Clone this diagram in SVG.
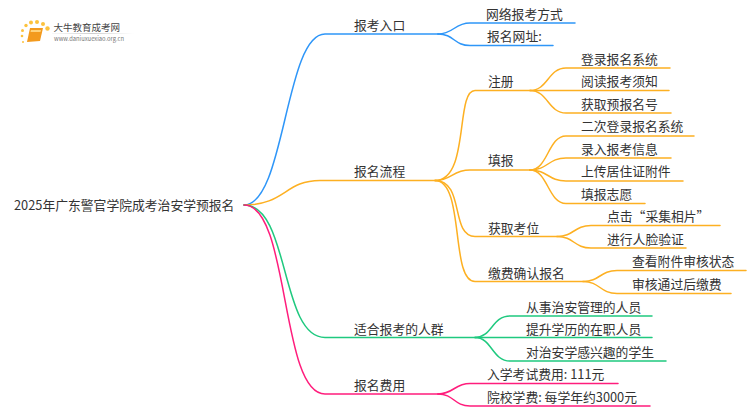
<svg xmlns="http://www.w3.org/2000/svg" width="750" height="410" viewBox="0 0 750 410">
<defs><linearGradient id="lg" x1="0" x2="1"><stop offset="0" stop-color="#ddd" stop-opacity="0.2"/><stop offset="0.5" stop-color="#ccc"/><stop offset="1" stop-color="#ddd" stop-opacity="0"/></linearGradient></defs>
<style>
text{font-family:"Noto Sans CJK SC","Noto Sans",sans-serif;font-size:12.8px;fill:#333}
path{fill:none;stroke-width:1.5;stroke-linecap:round}
.b path{stroke:#2e96f8}.o path{stroke:#fdb022}.g path{stroke:#1fc97f}.p path{stroke:#ff1d7c}
.lt{font-size:9.5px;fill:#444}.lu{font-size:5.8px;fill:#777}
</style>
<rect width="750" height="410" fill="#fff"/>
<g id="logo">
<g fill="#fcc23d"><circle cx="23" cy="42" r="1"/><circle cx="22" cy="36" r="1.3"/><circle cx="22.500" cy="30.500" r="1.5"/><circle cx="26" cy="25.500" r="1.7"/><circle cx="31" cy="22.500" r="2"/><circle cx="37" cy="22" r="2"/><circle cx="43" cy="24" r="2"/><circle cx="47.500" cy="28.500" r="2.2"/></g>
<polygon points="30,28 43,28 40,41 27,42" fill="#f39a1e"/>
<polygon points="31,30 41,30 40.500,32 30.500,32" fill="#ffd27a"/>
<text class="lt" x="53.500" y="31">大牛教育成考网</text>
<rect x="52" y="33" width="82" height="1" fill="url(#lg)"/>
<text class="lu" x="54" y="41">www.daniuxuexiao.org.cn</text>
</g>
<g id="connectors">
<g class="b"><path d="M244 205C285 205 285 34 325 34H438"/><path d="M438 34C454 34 454 23 470 23H575"/><path d="M438 34C454 34 454 45.500 470 45.500H553"/></g>
<g class="o"><path d="M244 205C285 205 285 180.500 320 180.500H435"/>
<path d="M435 180.500C470 180.500 455 90.500 475 90.500H530"/><path d="M435 180.500C452 180.500 452 170 470 170H530"/><path d="M435 180.500C465 180.500 450 236.500 475 236.500H557"/><path d="M435 180.500C465 180.500 450 281.500 475 281.500H583"/>
<path d="M530 90.500C548 90.500 548 68 566 68H670"/><path d="M530 90.500H669"/><path d="M530 90.500C548 90.500 548 113 566 113H671"/>
<path d="M530 170C548 170 548 136 566 136H694"/><path d="M530 170C548 170 548 158 566 158H671"/><path d="M530 170C548 170 548 181 566 181H683"/><path d="M530 170C548 170 548 203.500 566 203.500H645"/>
<path d="M557 236.500C574 236.500 574 225.500 591 225.500H720"/><path d="M557 236.500C574 236.500 574 248 591 248H686"/>
<path d="M583 281.500C600 281.500 600 270.500 617 270.500H746"/><path d="M583 281.500C600 281.500 600 293.500 617 293.500H731"/></g>
<g class="g"><path d="M244 205C290 205 280 337.500 325 337.500H475"/><path d="M475 337.500C492 337.500 492 316 510 316H652"/><path d="M475 337.500H652"/><path d="M475 337.500C492 337.500 492 361 510 361H666"/></g>
<g class="p"><path d="M244 205C290 205 280 394 325 394H438"/><path d="M438 394C454 394 454 383.500 470 383.500H618"/><path d="M438 394C454 394 454 406 470 406H650"/></g>
</g>
<g id="root"><text x="14" y="210">2025年广东警官学院成考治安学预报名</text></g>
<g id="n1"><text x="354" y="30">报考入口</text></g>
<g id="n1a"><text x="486" y="19">网络报考方式</text></g>
<g id="n1b"><text x="487" y="41">报名网址:</text></g>
<g id="n2"><text x="354" y="176">报名流程</text></g>
<g id="n21"><text x="488" y="86">注册</text></g>
<g id="n211"><text x="581" y="64">登录报名系统</text></g>
<g id="n212"><text x="581" y="86">阅读报考须知</text></g>
<g id="n213"><text x="581" y="109">获取预报名号</text></g>
<g id="n22"><text x="488" y="165">填报</text></g>
<g id="n221"><text x="581" y="131">二次登录报名系统</text></g>
<g id="n222"><text x="581" y="154">录入报考信息</text></g>
<g id="n223"><text x="581" y="176">上传居住证附件</text></g>
<g id="n224"><text x="581" y="199">填报志愿</text></g>
<g id="n23"><text x="488" y="233">获取考位</text></g>
<g id="n231"><text x="607" y="221">点击“采集相片”</text></g>
<g id="n232"><text x="607" y="244">进行人脸验证</text></g>
<g id="n24"><text x="488" y="278">缴费确认报名</text></g>
<g id="n241"><text x="632" y="266">查看附件审核状态</text></g>
<g id="n242"><text x="632" y="289">审核通过后缴费</text></g>
<g id="n3"><text x="354" y="334">适合报考的人群</text></g>
<g id="n31"><text x="526" y="312">从事治安管理的人员</text></g>
<g id="n32"><text x="526" y="334">提升学历的在职人员</text></g>
<g id="n33"><text x="526" y="357">对治安学感兴趣的学生</text></g>
<g id="n4"><text x="354" y="390">报名费用</text></g>
<g id="n41"><text x="487" y="379">入学考试费用: 111元</text></g>
<g id="n42"><text x="487" y="402">院校学费: 每学年约3000元</text></g>
</svg>
